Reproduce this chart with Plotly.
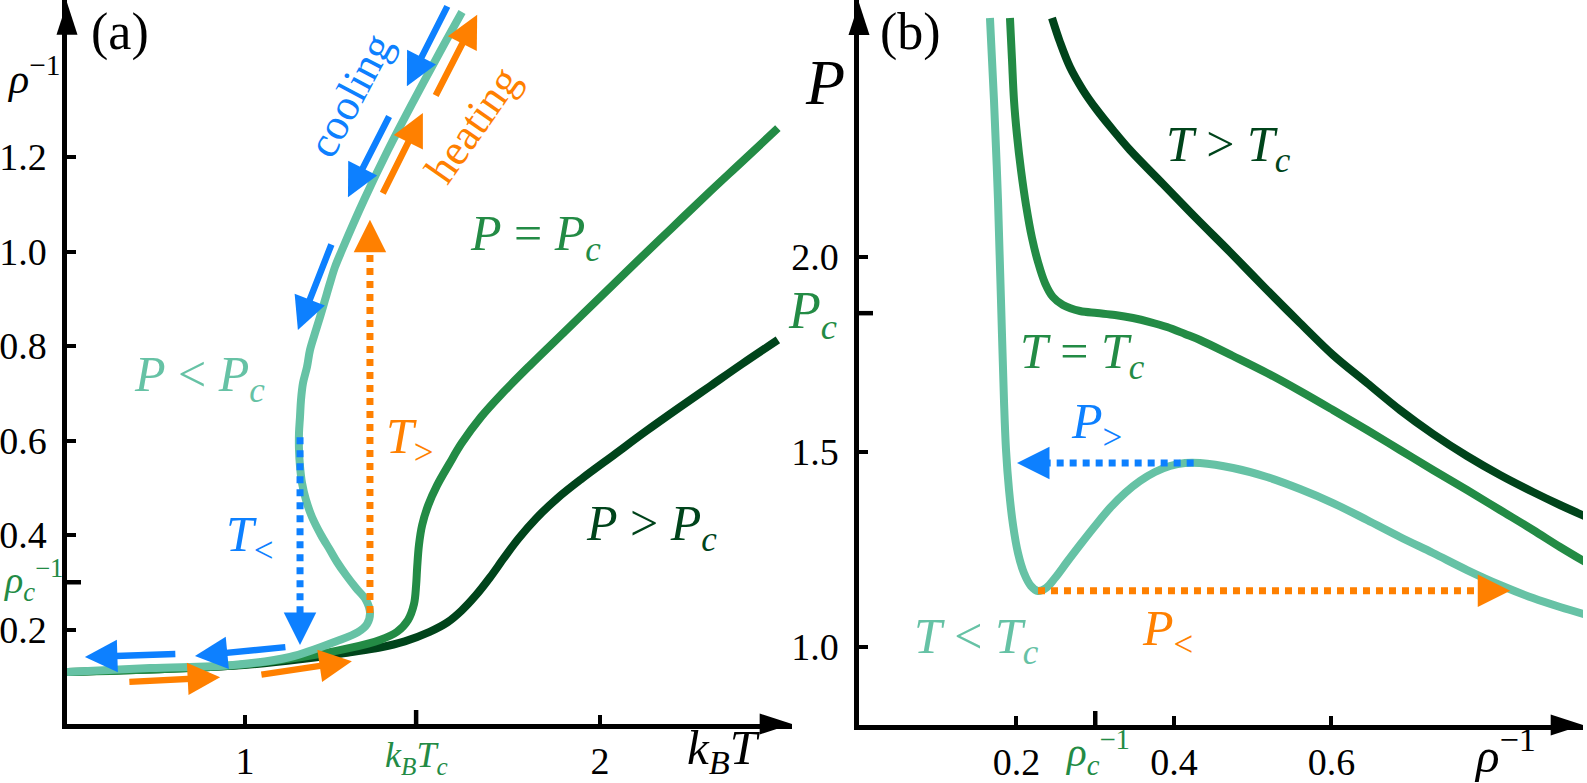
import plotly.graph_objects as go

# ---------------- data: panel (a)  rho^-1 versus k_B T ----------------
a_low_T = [0.4986, 0.7324, 0.9662, 1.1268, 1.2592, 1.3183, 1.3437, 1.3521, 1.3408, 1.3127, 1.2845,
           1.2592, 1.2394, 1.2141, 1.1887, 1.1718, 1.1606, 1.1549, 1.1521, 1.1521, 1.1549, 1.1577,
           1.1634, 1.1746, 1.1831, 1.1972, 1.2113, 1.2254, 1.2394, 1.2535, 1.2732, 1.3352, 1.4028,
           1.4761, 1.5521, 1.6113]
a_low_rho = [0.1101, 0.1185, 0.1249, 0.1418, 0.1757, 0.1947, 0.2116, 0.2349, 0.2624, 0.2878, 0.3153,
             0.3429, 0.3683, 0.4000, 0.4381, 0.4741, 0.5101, 0.5460, 0.5799, 0.6159, 0.6497, 0.6857,
             0.7217, 0.7556, 0.7915, 0.8275, 0.8614, 0.8974, 0.9333, 0.9672, 1.0032, 1.1090, 1.2148,
             1.3206, 1.4265, 1.5069]
a_crit_T = [0.4986, 0.966, 1.155, 1.296, 1.380, 1.428, 1.459, 1.476, 1.482, 1.485, 1.490, 1.499,
            1.516, 1.541, 1.575, 1.610, 1.665, 1.725, 1.80, 1.90, 2.00, 2.10, 2.20, 2.30, 2.40, 2.501]
a_crit_rho = [0.110, 0.124, 0.141, 0.161, 0.178, 0.195, 0.220, 0.254, 0.294, 0.332, 0.379, 0.421,
              0.463, 0.505, 0.550, 0.594, 0.650, 0.700, 0.757, 0.830, 0.903, 0.976, 1.048, 1.120,
              1.190, 1.261]
a_high_T = [0.4986, 0.966, 1.155, 1.296, 1.38, 1.45, 1.52, 1.57, 1.61, 1.65, 1.69, 1.73, 1.77, 1.82,
            1.88, 1.95, 2.04, 2.13, 2.22, 2.31, 2.40, 2.501]
a_high_rho = [0.110, 0.123, 0.137, 0.152, 0.162, 0.175, 0.195, 0.215, 0.240, 0.272, 0.310, 0.352,
              0.392, 0.435, 0.478, 0.520, 0.570, 0.620, 0.668, 0.715, 0.762, 0.813]

# cooling / heating arrows (tail -> tip)
cool_tail_T = [1.572, 1.408, 1.245, 0.808, 1.118]
cool_tail_rho = [1.522, 1.289, 1.018, 0.148, 0.163]
cool_tip_T = [1.456, 1.290, 1.149, 0.549, 0.859]
cool_tip_rho = [1.350, 1.115, 0.834, 0.142, 0.144]
heat_tail_T = [1.535, 1.386, 0.670, 1.042]
heat_tail_rho = [1.327, 1.120, 0.089, 0.104]
heat_tip_T = [1.654, 1.501, 0.930, 1.301]
heat_tip_rho = [1.501, 1.293, 0.099, 0.133]

# T_< (blue, down) and T_> (orange, up) jumps
Tlow_T = 1.155
Tlow_rho = [0.607, 0.167]   # start, tip
Thigh_T = 1.352
Thigh_rho = [0.235, 1.067]  # start, tip

a_xticks = [1, 2]
a_xticktext = ["1", "2"]
a_yticks = [0.2, 0.4, 0.6, 0.8, 1.0, 1.2]
a_yticktext = ["0.2", "0.4", "0.6", "0.8", "1.0", "1.2"]
kTc = 1.482
rho_c_inv = 0.3

# ---------------- data: panel (b)  P versus rho^-1 ----------------
b_low_v = [0.1663, 0.1714, 0.1765, 0.1803, 0.1841, 0.1867, 0.1905, 0.1956, 0.2019, 0.2095, 0.2184,
           0.2273, 0.2375, 0.2489, 0.2641, 0.2806, 0.2997, 0.3187, 0.3378, 0.3568, 0.3759, 0.3949,
           0.4140, 0.4330, 0.4749, 0.5181, 0.5600, 0.6019, 0.6451, 0.6870, 0.7289, 0.7721, 0.8140,
           0.8559, 0.8902, 0.9244]
b_low_P = [2.6128, 2.4026, 2.1462, 1.8897, 1.6333, 1.5051, 1.4026, 1.3128, 1.2410, 1.1897, 1.1564,
           1.1436, 1.1513, 1.1769, 1.2179, 1.2615, 1.3103, 1.3564, 1.3949, 1.4256, 1.4487, 1.4641,
           1.4718, 1.4718, 1.4590, 1.4359, 1.4051, 1.3692, 1.3256, 1.2821, 1.2410, 1.1974, 1.1590,
           1.1256, 1.1026, 1.0821]
b_crit_v = [0.1917, 0.1943, 0.1968, 0.2006, 0.2057, 0.2121, 0.2197, 0.2273, 0.2362, 0.2463, 0.2590,
            0.2806, 0.3022, 0.3251, 0.3479, 0.3695, 0.3911, 0.4140, 0.4330, 0.4749, 0.5181, 0.5600,
            0.6019, 0.6451, 0.6870, 0.7289, 0.7721, 0.8140, 0.8559, 0.8902, 0.9244]
b_crit_P = [2.6128, 2.5051, 2.4026, 2.3128, 2.2231, 2.1333, 2.0487, 1.9872, 1.9333, 1.8974, 1.8769,
            1.8615, 1.8564, 1.8513, 1.8436, 1.8333, 1.8205, 1.8026, 1.7872, 1.7462, 1.7026, 1.6564,
            1.6077, 1.5564, 1.5051, 1.4538, 1.4026, 1.3513, 1.3000, 1.2564, 1.2154]
b_high_v = [0.2451, 0.2552, 0.2679, 0.2844, 0.3022, 0.3225, 0.3441, 0.3860, 0.4292, 0.4711, 0.5156,
            0.5600, 0.6019, 0.6451, 0.6870, 0.7289, 0.7721, 0.8140, 0.8559, 0.8902, 0.9244]
b_high_P = [2.6128, 2.5513, 2.4872, 2.4282, 2.3769, 2.3256, 2.2744, 2.1872, 2.0974, 2.0128, 1.9205,
            1.8308, 1.7487, 1.6769, 1.6077, 1.5462, 1.4897, 1.4410, 1.3974, 1.3641, 1.3333]

Phigh_P = 1.472
Phigh_v = [0.425, 0.2006]   # start, tip
Plow_P = 1.144
Plow_v = [0.2273, 0.827]    # start, tip

b_xticks = [0.2, 0.4, 0.6]
b_xticktext = ["0.2", "0.4", "0.6"]
b_yticks = [1.0, 1.5, 2.0]
b_yticktext = ["1.0", "1.5", "2.0"]
Pc = 1.856

# ---------------- styling ----------------
LIGHT = "#66c2a5"
MID = "#238b45"
DARK = "#00441b"
BLUE = "#0d80ff"
ORANGE = "#ff8000"
SERIF = "Liberation Serif"
W, H = 1587, 783

A_X0, A_X1 = 0.4986, 2.5408
A_Y0, A_Y1 = 0.0, 1.5323
B_X0, B_X1 = 0.0, 0.9194
B_Y0, B_Y1 = 0.8, 2.659

fig = go.Figure()

def curve(x, y, color, xa, ya):
    fig.add_trace(go.Scatter(x=x, y=y, mode="lines", xaxis=xa, yaxis=ya,
                             line=dict(color=color, width=8, shape="spline", smoothing=1.0),
                             hoverinfo="skip"))

def dotted(x, y, color, xa, ya):
    fig.add_trace(go.Scatter(x=x, y=y, mode="lines", xaxis=xa, yaxis=ya,
                             line=dict(color=color, width=7, dash="7px,6px"),
                             hoverinfo="skip"))

# panel (a) curves
curve(a_high_T, a_high_rho, DARK, "x", "y")
curve(a_crit_T, a_crit_rho, MID, "x", "y")
curve(a_low_T, a_low_rho, LIGHT, "x", "y")
# panel (b) curves
curve(b_high_v, b_high_P, DARK, "x2", "y2")
curve(b_crit_v, b_crit_P, MID, "x2", "y2")
curve(b_low_v, b_low_P, LIGHT, "x2", "y2")

HEAD = 30  # px
# dotted segments (stop near the arrow base)
dotted([Tlow_T, Tlow_T], [Tlow_rho[0], Tlow_rho[1] + 28 / 472.5], BLUE, "x", "y")
dotted([Thigh_T, Thigh_T], [Thigh_rho[0], Thigh_rho[1] - 28 / 472.5], ORANGE, "x", "y")
dotted([Phigh_v[0], Phigh_v[1] + 28 / 787.5], [Phigh_P, Phigh_P], BLUE, "x2", "y2")
dotted([Plow_v[0], Plow_v[1] - 28 / 787.5], [Plow_P, Plow_P], ORANGE, "x2", "y2")

# axis arrowheads
def axhead(x, y, ang, xa, ya):
    fig.add_trace(go.Scatter(x=[x], y=[y], mode="markers", xaxis=xa, yaxis=ya, cliponaxis=False,
                             marker=dict(symbol="arrow", angle=ang, size=34, color="black",
                                         line=dict(width=0)),
                             hoverinfo="skip"))
axhead(A_X1, 0, 90, "x", "y")
axhead(A_X0, 1.527, 0, "x", "y")
axhead(B_X1, B_Y0, 90, "x2", "y2")
axhead(B_X0, 2.652, 0, "x2", "y2")

axis_common = dict(showline=True, linecolor="black", linewidth=4.5, ticks="inside", ticklen=9,
                   tickwidth=4, tickcolor="black", showgrid=False, zeroline=False,
                   automargin=False,
                   tickfont=dict(family=SERIF, size=38, color="black"))

fig.update_layout(
    width=W, height=H, margin=dict(l=0, r=0, t=0, b=0, autoexpand=False),
    paper_bgcolor="white", plot_bgcolor="white", showlegend=False,
    font=dict(family=SERIF, color="black"),
    xaxis=dict(domain=[67 / W, 792 / W], range=[A_X0, A_X1], anchor="y", ticklabelstandoff=0,
               tickvals=a_xticks, ticktext=a_xticktext, **axis_common),
    yaxis=dict(domain=[59 / H, 1], range=[A_Y0, A_Y1], anchor="x", ticklabelstandoff=8,
               tickvals=a_yticks, ticktext=a_yticktext, **axis_common),
    xaxis2=dict(domain=[859 / W, 1583 / W], range=[B_X0, B_X1], anchor="y2", ticklabelstandoff=0,
                tickvals=b_xticks, ticktext=b_xticktext, **axis_common),
    yaxis2=dict(domain=[58 / H, 1], range=[B_Y0, B_Y1], anchor="x2", ticklabelstandoff=8,
                tickvals=b_yticks, ticktext=b_yticktext, **axis_common),
)

shapes = []
def seg(**kw):
    d = dict(type="line", line=dict(color="black", width=4.5))
    d.update(kw)
    shapes.append(d)

# axis overhangs
seg(xref="x", yref="y", xsizemode="pixel", xanchor=A_X0, x0=-14, x1=0, y0=0, y1=0)
seg(xref="x", yref="y", ysizemode="pixel", yanchor=0, y0=-14, y1=0, x0=A_X0, x1=A_X0)
seg(xref="x2", yref="y2", xsizemode="pixel", xanchor=B_X0, x0=-14, x1=0, y0=B_Y0, y1=B_Y0)
seg(xref="x2", yref="y2", ysizemode="pixel", yanchor=B_Y0, y0=-14, y1=0, x0=B_X0, x1=B_X0)
# special crossing ticks
seg(xref="x", yref="y", ysizemode="pixel", yanchor=0, y0=-14, y1=14, x0=kTc, x1=kTc)
seg(xref="x", yref="y", xsizemode="pixel", xanchor=A_X0, x0=-14, x1=14, y0=rho_c_inv, y1=rho_c_inv)
seg(xref="x2", yref="y2", xsizemode="pixel", xanchor=B_X0, x0=-14, x1=14, y0=Pc, y1=Pc)
seg(xref="x2", yref="y2", ysizemode="pixel", yanchor=B_Y0, y0=-14, y1=14, x0=rho_c_inv, x1=rho_c_inv)
fig.update_layout(shapes=shapes)

ann = []
def label(x, y, text, color, size, xr, yr, angle=0):
    ann.append(dict(x=x, y=y, xref=xr, yref=yr, text=text, showarrow=False, textangle=angle,
                    font=dict(family=SERIF, size=size, color=color),
                    xanchor="center", yanchor="middle"))

def plabel(px, py, text, color, size):
    # positioned in figure pixels (outside the axis ranges)
    label(px / W, 1 - py / H, text, color, size, "paper", "paper")

ARW = dict(showarrow=True, arrowhead=2, arrowwidth=6.5, arrowsize=1.0, text="")

def arrow(tx, ty, hx, hy, color, xr, yr):
    ann.append(dict(x=hx, y=hy, ax=tx, ay=ty, xref=xr, yref=yr, axref=xr, ayref=yr,
                    arrowcolor=color, **ARW))

def head(hx, hy, dx, dy, color, xr, yr):
    ann.append(dict(x=hx, y=hy, ax=dx, ay=dy, xref=xr, yref=yr, arrowcolor=color, **ARW))

for i in range(len(cool_tip_T)):
    arrow(cool_tail_T[i], cool_tail_rho[i], cool_tip_T[i], cool_tip_rho[i], BLUE, "x", "y")
for i in range(len(heat_tip_T)):
    arrow(heat_tail_T[i], heat_tail_rho[i], heat_tip_T[i], heat_tip_rho[i], ORANGE, "x", "y")

head(Tlow_T, Tlow_rho[1], 0, -HEAD, BLUE, "x", "y")
head(Thigh_T, Thigh_rho[1], 0, HEAD, ORANGE, "x", "y")
head(Phigh_v[1], Phigh_P, HEAD, 0, BLUE, "x2", "y2")
head(Plow_v[1], Plow_P, -HEAD, 0, ORANGE, "x2", "y2")

# panel (a) texts
label(0.648, 1.465, "(a)", "black", 52, "x", "y")
plabel(33, 76, "<i>ρ</i><sup>−1</sup>", "black", 42)
label(1.296, 1.331, "cooling", BLUE, 44, "x", "y", angle=-62)
label(1.642, 1.268, "heating", ORANGE, 44, "x", "y", angle=-55)
label(0.873, 0.732, "<i>P</i> &lt; <i>P</i><sub><i>c</i></sub>", LIGHT, 50, "x", "y")
label(1.817, 1.031, "<i>P</i> = <i>P</i><sub><i>c</i></sub>", MID, 50, "x", "y")
label(2.146, 0.417, "<i>P</i> &gt; <i>P</i><sub><i>c</i></sub>", DARK, 50, "x", "y")
label(1.014, 0.394, "<i>T</i><sub>&lt;</sub>", BLUE, 50, "x", "y")
label(1.465, 0.601, "<i>T</i><sub>&gt;</sub>", ORANGE, 50, "x", "y")
plabel(724, 750, "<i>k</i><sub><i>B</i></sub><i>T</i>", "black", 49)
plabel(416, 757, "<i>k</i><sub><i>B</i></sub><i>T</i><sub><i>c</i></sub>", MID, 36)
plabel(33, 580, "<i>ρ</i><sub><i>c</i></sub><sup>−1</sup>", MID, 38)

# panel (b) texts
label(0.0648, 2.577, "(b)", "black", 52, "x2", "y2")
plabel(825, 82, "<i>P</i>", "black", 64)
label(0.4686, 2.279, "<i>T</i> &gt; <i>T</i><sub><i>c</i></sub>", DARK, 50, "x2", "y2")
label(0.2844, 1.749, "<i>T</i> = <i>T</i><sub><i>c</i></sub>", MID, 50, "x2", "y2")
label(0.1498, 1.018, "<i>T</i> &lt; <i>T</i><sub><i>c</i></sub>", LIGHT, 50, "x2", "y2")
label(0.302, 1.569, "<i>P</i><sub>&gt;</sub>", BLUE, 50, "x2", "y2")
label(0.392, 1.038, "<i>P</i><sub>&lt;</sub>", ORANGE, 50, "x2", "y2")
plabel(812, 314, "<i>P</i><sub><i>c</i></sub>", MID, 52)
plabel(1097, 752, "<i>ρ</i><sub><i>c</i></sub><sup>−1</sup>", MID, 41)
plabel(1505, 751, "<i>ρ</i><sup>−1</sup>", "black", 49)

fig.update_layout(annotations=ann)

fig.write_html("out.html")
